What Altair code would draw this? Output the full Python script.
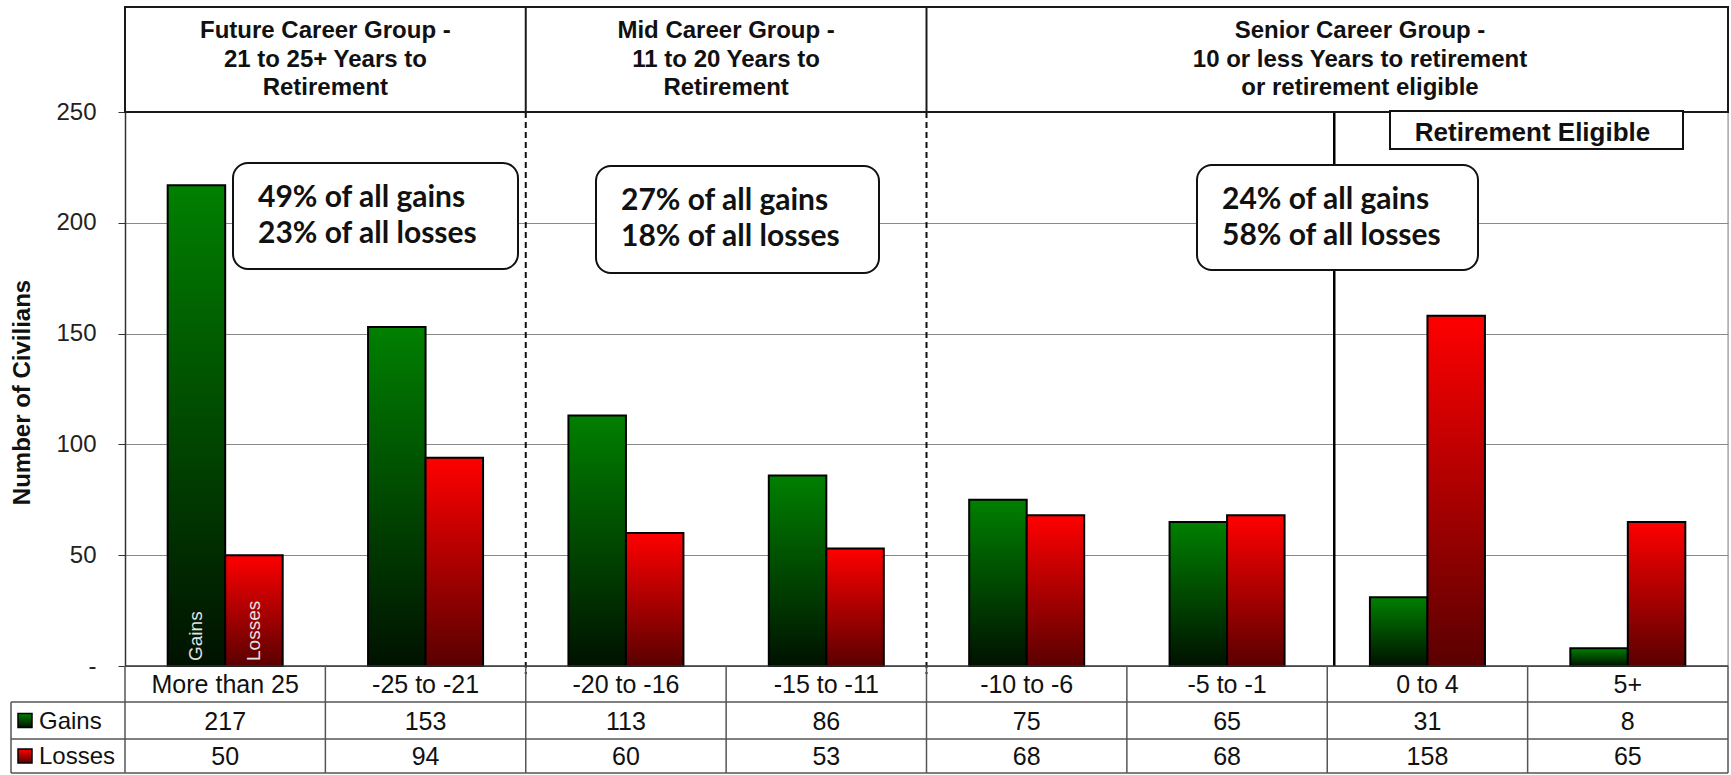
import altair as alt
import pandas as pd

# ---------------- data ----------------
categories = ["More than 25", "-25 to -21", "-20 to -16", "-15 to -11",
              "-10 to -6", "-5 to -1", "0 to 4", "5+"]
series_names = ["Gains", "Losses"]
gains = [217, 153, 113, 86, 75, 65, 31, 8]
losses = [50, 94, 60, 53, 68, 68, 158, 65]

group_titles = [
    ["Future Career Group -", "21 to 25+ Years to", "Retirement"],
    ["Mid Career Group -", "11 to 20 Years to", "Retirement"],
    ["Senior Career Group -", "10 or less Years to retirement", "or retirement eligible"],
]
annotations = [
    ["49% of all gains", "23% of all losses"],
    ["27% of all gains", "18% of all losses"],
    ["24% of all gains", "58% of all losses"],
]
y_title = "Number of Civilians"
retire_label = "Retirement Eligible"

# ---------------- layout (pixels, relative to plot origin) ----------------
W, H = 1603, 554
STEP = W / len(categories)
PAD = {"left": 125, "top": 112, "right": 3, "bottom": 109}
HEADER_TOP = -105
ROW1, ROW2, ROW3 = H + 36, H + 73, H + 107
LEGEND_X = -114
header_centers = [STEP * 1, STEP * 3, 1235]
header_baselines = [-74, -45.5, -17]
ann_boxes = [(108, 393, 51, 157), (471, 754, 54, 161), (1072, 1353, 53, 158)]
ann_inset = 25
ann_baselines = [95 - 51, 131 - 51]
retire_line_x = STEP * 6 + 7
retire_box = (1265, 1558, -1, 37)

ARIAL = "Liberation Sans"
CAL = "Lato"

green = alt.Gradient(gradient="linear",
                     stops=[alt.GradientStop(color="#008000", offset=0),
                            alt.GradientStop(color="#001200", offset=1)],
                     x1=0, x2=0, y1=0, y2=1)
red = alt.Gradient(gradient="linear",
                   stops=[alt.GradientStop(color="#ff0000", offset=0),
                          alt.GradientStop(color="#5a0000", offset=1)],
                   x1=0, x2=0, y1=0, y2=1)

rows = []
for c, g, l in zip(categories, gains, losses):
    rows.append({"category": c, "series": "Gains", "value": g})
    rows.append({"category": c, "series": "Losses", "value": l})
df = pd.DataFrame(rows)
table = pd.DataFrame({"category": categories, "gains": gains, "losses": losses})

xenc = alt.X("category:N", sort=categories,
             scale=alt.Scale(paddingInner=0.426, paddingOuter=0.213), axis=None)
xoff = alt.XOffset("series:N", sort=series_names,
                   scale=alt.Scale(domain=series_names, paddingInner=0, paddingOuter=0))
yenc = alt.Y("value:Q", scale=alt.Scale(domain=[0, 250], nice=False),
             axis=alt.Axis(values=[0, 50, 100, 150, 200, 250],
                           labelExpr="datum.value == 0 ? '-\u00a0\u00a0' : datum.label",
                           title=y_title, titleX=-103, titleY=H / 2 + 3,
                           titleAngle=-90, titleAlign="center", titleBaseline="middle",
                           titleFont=ARIAL, titleFontSize=24, titleFontWeight="bold",
                           titleColor="#111",
                           labelFont=ARIAL, labelFontSize=24, labelColor="#222",
                           labelPadding=22, tickSize=7, tickColor="#333",
                           domainColor="#333", domainWidth=1.5,
                           grid=True, gridColor="#8a8a8a", gridWidth=1))

one = alt.Data(values=[{"k": 0}])


def rule(x, y, x2=None, y2=None, **kw):
    enc = {"x": alt.value(x), "y": alt.value(y)}
    if x2 is not None:
        enc["x2"] = alt.value(x2)
    if y2 is not None:
        enc["y2"] = alt.value(y2)
    return alt.Chart(one).mark_rule(**kw).encode(**enc)


def rect(x, x2, y, y2, **kw):
    return alt.Chart(one).mark_rect(**kw).encode(
        x=alt.value(x), x2=alt.value(x2), y=alt.value(y), y2=alt.value(y2))


def text(t, x, y, **kw):
    return alt.Chart(one).mark_text(**kw).encode(
        x=alt.value(x), y=alt.value(y), text=alt.value(t))


layers = []

bars_g = alt.Chart(df).transform_filter("datum.series == 'Gains'").mark_bar(
    fill=green, stroke="#000", strokeWidth=2).encode(x=xenc, xOffset=xoff, y=yenc)
bars_l = alt.Chart(df).transform_filter("datum.series == 'Losses'").mark_bar(
    fill=red, stroke="#000", strokeWidth=2).encode(x=xenc, xOffset=xoff, y=yenc)
layers += [bars_g, bars_l]

# series names inside the first pair of bars
inbar = alt.Chart(df).transform_filter(
    f"datum.category == '{categories[0]}'").mark_text(
    angle=270, align="left", baseline="middle", font=ARIAL, fontSize=19,
    color="#e4e4e4").encode(x=xenc, xOffset=xoff, y=alt.value(H - 5),
                            text="series:N")
layers.append(inbar)

# separators
for k in (2, 4):
    layers.append(rule(STEP * k, 0, y2=H + 8, stroke="#111", strokeWidth=2,
                       strokeDash=[6, 4]))
layers.append(rule(retire_line_x, 0, y2=H, stroke="#000", strokeWidth=2.5))
layers.append(rule(W, 0, y2=H, stroke="#888", strokeWidth=1))

# header
layers.append(rect(0, W, HEADER_TOP, 0, fill="white", stroke="#1a1a1a", strokeWidth=2))
for k in (2, 4):
    layers.append(rule(STEP * k, HEADER_TOP, y2=0, stroke="#1a1a1a", strokeWidth=2))
for cx, lines in zip(header_centers, group_titles):
    for yb, t in zip(header_baselines, lines):
        layers.append(text(t, cx, yb, align="center", baseline="alphabetic",
                           font=ARIAL, fontSize=24, fontWeight="bold", color="#111"))

# retirement eligible box
x1, x2, y1, y2 = retire_box
layers.append(rect(x1, x2, y1, y2, fill="white", stroke="#111", strokeWidth=2))
layers.append(text(retire_label, (x1 + x2) / 2 - 4, 29, align="center",
                   baseline="alphabetic", font=ARIAL, fontSize=26,
                   fontWeight="bold", color="#111"))

# annotation boxes
for (x1, x2, y1, y2), lines in zip(ann_boxes, annotations):
    layers.append(rect(x1, x2, y1, y2, fill="white", stroke="#111", strokeWidth=2,
                       cornerRadius=15))
    for yb, t in zip(ann_baselines, lines):
        layers.append(text(t, x1 + ann_inset, y1 + yb, align="left",
                           baseline="alphabetic", font=CAL, fontSize=30,
                           fontWeight="bold", color="#111"))

# data table
TL = "#555"
layers.append(rule(0, H, x2=W, stroke="#333", strokeWidth=1.5))
for yy in (ROW1, ROW2, ROW3):
    layers.append(rule(LEGEND_X, yy, x2=W, stroke=TL, strokeWidth=1.5))
for k in range(len(categories) + 1):
    layers.append(rule(STEP * k, H, y2=ROW3, stroke=TL, strokeWidth=1.5))
layers.append(rule(LEGEND_X, ROW1, y2=ROW3, stroke=TL, strokeWidth=1.5))

tbl_x = alt.X("category:N", sort=categories)
layers.append(alt.Chart(table).mark_text(font=ARIAL, fontSize=25, color="#111",
                                         baseline="middle").encode(
    x=tbl_x, y=alt.value((H + ROW1) / 2 + 1), text="category:N"))
layers.append(alt.Chart(table).mark_text(font=ARIAL, fontSize=25, color="#111",
                                         baseline="middle").encode(
    x=tbl_x, y=alt.value((ROW1 + ROW2) / 2 + 1), text="gains:Q"))
layers.append(alt.Chart(table).mark_text(font=ARIAL, fontSize=25, color="#111",
                                         baseline="middle").encode(
    x=tbl_x, y=alt.value((ROW2 + ROW3) / 2 + 1), text="losses:Q"))

# legend column
for (yy0, yy1), grad, name in zip([(ROW1, ROW2), (ROW2, ROW3)], [green, red], series_names):
    cy = (yy0 + yy1) / 2
    layers.append(rect(-107, -93, cy - 7, cy + 7, fill=grad, stroke="#000", strokeWidth=1.5))
    layers.append(text(name, -86, cy + 1, align="left", baseline="middle",
                       font=ARIAL, fontSize=24, color="#111"))

chart = alt.layer(*layers).properties(
    width=W, height=H, padding=PAD,
    autosize=alt.AutoSizeParams(type="none"),
).configure_view(stroke=None).configure(background="white")

chart.save("out.html", embed_options={"renderer": "svg", "actions": False})
